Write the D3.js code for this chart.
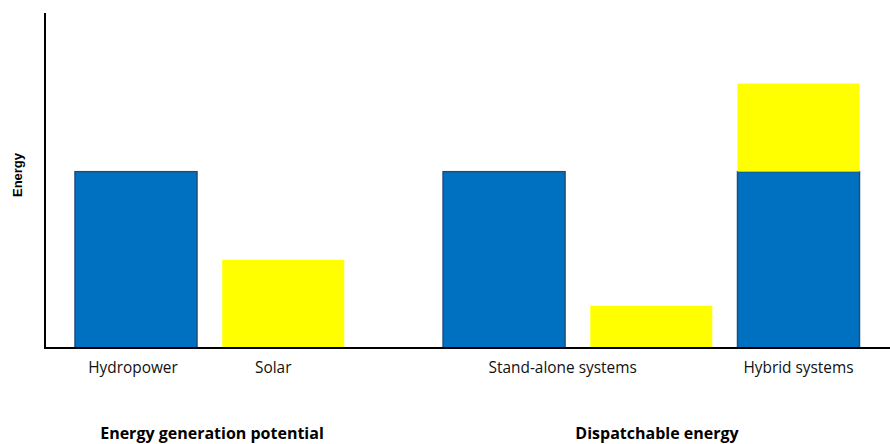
<!DOCTYPE html>
<html>
<head>
<meta charset="utf-8">
<script src="https://cdn.jsdelivr.net/npm/d3@7"></script>
<style>
  html, body { margin: 0; padding: 0; background: #ffffff; }
  svg { display: block; }
</style>
</head>
<body>
<svg id="chart" width="890" height="444"></svg>
<script>
// ---- data ----
const groups = ["Energy generation potential", "Dispatchable energy"];
const categories = ["Hydropower", "Solar", "Stand-alone systems", "Hybrid systems"];
const categoryGroup = [0, 0, 1, 1];
// layout of each category: "single", "side" (bars side by side), "stack"
const categoryMode = ["single", "single", "side", "stack"];
const series = ["Hydropower", "Solar"];
const hydroValues = [100, 0, 100, 100];
const solarValues = [0, 50, 24, 50];
const yMax = 190;

const colors = { Hydropower: "#0070C0", Solar: "#FFFF00" };
const strokes = { Hydropower: "#1F4E79", Solar: "none" };

// ---- build bars ----
const bars = [];
let slot = 0;
const catSlots = [];
categories.forEach((c, i) => {
  const g = categoryGroup[i];
  const vals = { Hydropower: hydroValues[i], Solar: solarValues[i] };
  const slots = [];
  if (categoryMode[i] === "stack") {
    const s = slot + 0.5 * g;
    let base = 0;
    series.forEach(k => {
      if (vals[k] > 0) { bars.push({ cat: c, key: k, slot: s, y0: base, y1: base + vals[k] }); base += vals[k]; }
    });
    slots.push(s); slot += 1;
  } else {
    series.forEach(k => {
      if (vals[k] > 0) {
        const s = slot + 0.5 * g;
        bars.push({ cat: c, key: k, slot: s, y0: 0, y1: vals[k] });
        slots.push(s); slot += 1;
      }
    });
  }
  catSlots.push(slots);
});
const maxSlot = d3.max(bars, d => d.slot);

// ---- scales ----
const svg = d3.select("#chart");
const axisX = 45, axisY = 348, topY = 13, rightX = 890;
const barW = 122;
const x = d3.scaleLinear().domain([0, maxSlot]).range([136, 798.5]);
const y = d3.scaleLinear().domain([0, yMax]).range([axisY, topY]);

// bars
svg.append("g").selectAll("rect").data(bars).join("rect")
  .attr("x", d => x(d.slot) - barW / 2)
  .attr("width", barW)
  .attr("y", d => y(d.y1))
  .attr("height", d => y(d.y0) - y(d.y1))
  .attr("fill", d => colors[d.key])
  .attr("stroke", d => strokes[d.key])
  .attr("stroke-width", 1.5);

// axes
svg.append("line").attr("x1", axisX).attr("x2", axisX).attr("y1", topY).attr("y2", axisY + 1)
  .attr("stroke", "#000").attr("stroke-width", 2);
svg.append("line").attr("x1", axisX).attr("x2", rightX).attr("y1", axisY).attr("y2", axisY)
  .attr("stroke", "#000").attr("stroke-width", 2);

// category labels
const labelShift = [-3, -10, -15, 0];
svg.append("g").selectAll("text").data(categories).join("text")
  .attr("x", (d, i) => x(d3.mean(catSlots[i])) + labelShift[i])
  .attr("y", 373)
  .attr("text-anchor", "middle")
  .attr("font-family", "Open Sans, sans-serif")
  .attr("font-size", 15.4)
  .attr("fill", "#111")
  .text(d => d);

// group labels
svg.append("g").selectAll("text").data(groups).join("text")
  .attr("x", (d, i) => i === 0 ? 212 : 657)
  .attr("y", 439)
  .attr("text-anchor", "middle")
  .attr("font-family", "Open Sans, sans-serif")
  .attr("font-weight", "bold")
  .attr("font-size", 16)
  .attr("fill", "#000")
  .text(d => d);

// y label
svg.append("text")
  .attr("transform", "translate(22,175) rotate(-90)")
  .attr("text-anchor", "middle")
  .attr("font-family", "Liberation Sans, Arial, sans-serif")
  .attr("font-weight", "bold")
  .attr("font-size", 13)
  .attr("fill", "#000")
  .text("Energy");
</script>
</body>
</html>
